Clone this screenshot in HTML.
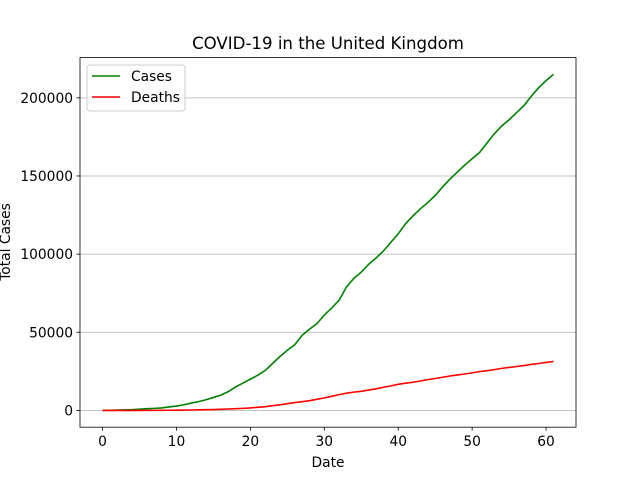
<!DOCTYPE html>
<html><head><meta charset="utf-8"><style>
body{margin:0;background:#fff;}
svg text{font-family:"DejaVu Sans","Liberation Sans",sans-serif;fill:#000;}
</style></head><body>
<svg id="chart" width="640" height="480" xmlns="http://www.w3.org/2000/svg">
<rect width="640" height="480" fill="#fff"/>
<g id="grid"></g>
<g id="series"></g>
<rect x="80" y="57.6" width="496" height="369.6" fill="none" stroke="#000" stroke-width="0.8"/>
<g id="xticks"></g><g id="yticks"></g>
<text x="328" y="49" font-size="16.6" text-anchor="middle">COVID-19 in the United Kingdom</text>
<text x="328" y="467" font-size="13.8" text-anchor="middle">Date</text>
<text transform="translate(10,242) rotate(-90)" font-size="13.8" text-anchor="middle">Total Cases</text>
<g>
<rect x="87" y="65" width="98" height="46" rx="3" fill="#fff" fill-opacity="0.8" stroke="#ccc"/>
<line x1="92" y1="76" x2="120" y2="76" stroke="green" stroke-width="1.5"/>
<text x="131" y="81" font-size="13.8">Cases</text>
<line x1="92" y1="97" x2="120" y2="97" stroke="red" stroke-width="1.5"/>
<text x="131" y="102" font-size="13.8">Deaths</text>
</g>
</svg>
<script>
const cases=[0,100,200,300,500,800,1100,1300,1600,2200,2800,3600,4700,5600,6800,8300,9800,12000,15000,17500,20000,22500,25500,30000,34500,38500,42000,48000,52000,55500,61000,65500,70500,79000,84500,88500,93500,97500,102000,107500,113000,119500,124500,129000,133000,137500,143000,148000,152500,157000,161000,165000,171000,177000,182000,186000,190500,195000,201000,206500,211000,215000];
const deaths=[0,0,0,0,0,0,10,20,50,100,150,200,250,350,450,550,700,900,1100,1300,1600,2000,2400,3000,3600,4300,5000,5600,6200,7100,8000,9000,10100,11000,11700,12200,13000,13800,14800,15700,16700,17400,18000,18800,19700,20400,21200,22000,22700,23300,24000,24800,25400,26100,26900,27500,28100,28700,29400,30000,30700,31300];
const xTicks=[0,10,20,30,40,50,60];
const yTicks=[0,50000,100000,150000,200000];
const NS="http://www.w3.org/2000/svg";
const L=80,R=576,T=57.6,B=427.2;
const n=cases.length-1;
const ymax=Math.max(...cases,...deaths);
const xmin=-0.05*n,xmax=n*1.05,ymn=-0.05*ymax,ymx=ymax*1.05;
const sx=v=>L+(v-xmin)/(xmax-xmin)*(R-L);
const sy=v=>B-(v-ymn)/(ymx-ymn)*(B-T);
function mk(t,a,p){const e=document.createElementNS(NS,t);for(const k in a)e.setAttribute(k,a[k]);document.getElementById(p).appendChild(e);return e;}
yTicks.forEach(v=>{
 const y=sy(v);
 const g=mk('line',{x1:L,x2:R,y1:y,y2:y,stroke:'#b0b0b0','stroke-width':0.8},'grid');
 
 
 mk('line',{x1:L-3.5,x2:L,y1:y,y2:y,stroke:'#000','stroke-width':0.8},'yticks');
 const t=mk('text',{x:L-7,y:y+5,'font-size':13.8,'text-anchor':'end'},'yticks');
 t.textContent=v;
 
 
});
xTicks.forEach(v=>{
 const x=sx(v);
 mk('line',{x1:x,x2:x,y1:B,y2:B+3.5,stroke:'#000','stroke-width':0.8},'xticks');
 const t=mk('text',{x:x,y:B+19,'font-size':13.8,'text-anchor':'middle'},'xticks');
 t.textContent=v;
 
 
});
function line(arr,color,name){
 const p=mk('polyline',{points:arr.map((v,i)=>sx(i)+','+sy(v)).join(' '),fill:'none',stroke:color,'stroke-width':1.6},'series');
 
 
}
line(cases,'green','cases-line');
line(deaths,'red','deaths-line');
</script>
</body></html>
